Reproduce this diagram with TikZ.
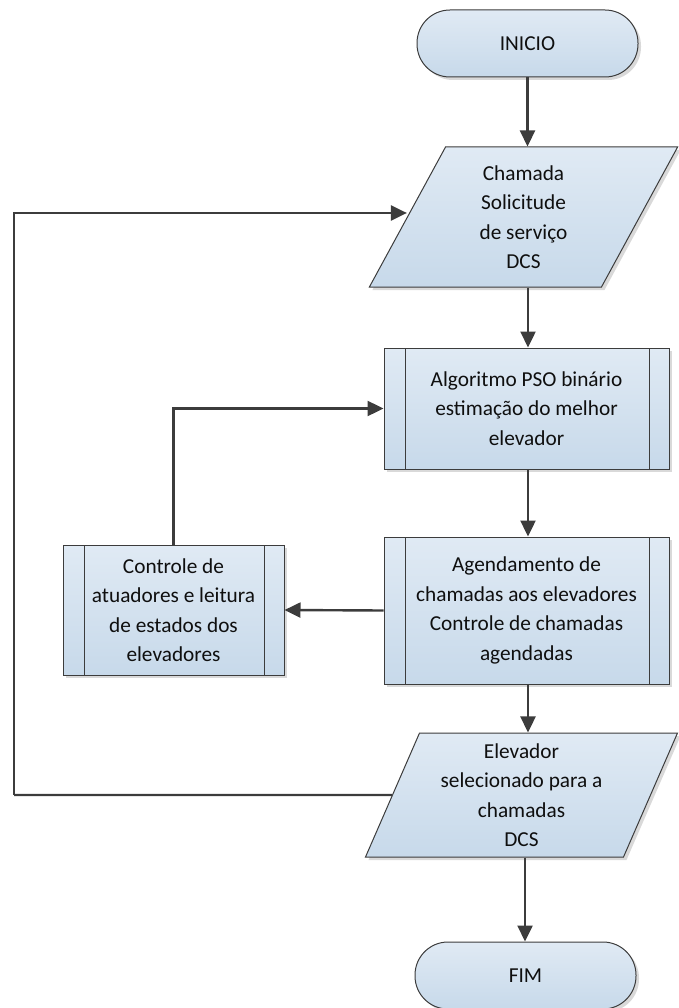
\documentclass[tikz,border=0pt]{standalone}
\usepackage{fontspec}
\setmainfont{Carlito}
\usetikzlibrary{shapes.geometric,arrows.meta,shadows}
\definecolor{boxtop}{RGB}{224,234,244}
\definecolor{boxbot}{RGB}{199,217,234}
\definecolor{edge}{RGB}{60,60,60}
\definecolor{arrowc}{RGB}{60,60,60}
\definecolor{txt}{RGB}{15,15,15}
\tikzset{
  base/.style={draw=edge, line width=1pt, top color=boxtop, bottom color=boxbot,
    text=txt, align=center, inner sep=0pt,
    font=\fontsize{21.3}{29.5}\selectfont,
    drop shadow={shadow xshift=3pt, shadow yshift=-3pt, opacity=0.25, fill=black!60}},
  term/.style={base, rectangle, rounded corners=33pt, minimum width=221pt, minimum height=67pt},
  io/.style={base, trapezium, trapezium left angle=67.5, trapezium right angle=112.5,
    trapezium stretches=true},
  proc/.style={base, rectangle,
    path picture={
      \draw[edge, line width=1pt] ([xshift=21pt]path picture bounding box.north west) -- ([xshift=21pt]path picture bounding box.south west);
      \draw[edge, line width=1pt] ([xshift=-20pt]path picture bounding box.north east) -- ([xshift=-20pt]path picture bounding box.south east);
    }},
  arr/.style={draw=arrowc, line width=2.4pt, -{Triangle[length=16pt,width=15pt]}},
  lin/.style={draw=arrowc, line width=2.4pt},
}
\begin{document}
\begin{tikzpicture}[x=1pt,y=-1pt]
\useasboundingbox (0,0) rectangle (678,1008);
\node[term] (inicio) at (527.5,43.5) {INICIO};
\node[io, minimum width=309pt, minimum height=140pt] (par1) at (523.5,217) {Chamada\\Solicitude\\de serviço\\DCS};
\node[proc, minimum width=285pt, minimum height=121pt] (pso) at (526.5,408.5) {Algoritmo PSO binário\\estimação do melhor\\elevador};
\node[proc, minimum width=285pt, minimum height=147pt] (agend) at (526.5,610.5) {Agendamento de\\chamadas aos elevadores\\Controle de chamadas\\agendadas};
\node[proc, minimum width=221pt, minimum height=130pt] (ctrl) at (173.5,610) {Controle de\\atuadores e leitura\\de estados dos\\elevadores};
\node[io, minimum width=313pt, minimum height=124pt] (par2) at (521.5,795) {Elevador\\selecionado para a\\chamadas\\DCS};
\node[term] (fim) at (525.5,975.5) {FIM};
\coordinate (lb) at (14,795);
\draw[arr] (inicio.south) -- (inicio.south |- par1.north);
\draw[arr] ([xshift=4.5pt]par1.south) -- ([xshift=4.5pt]par1.south |- pso.north);
\draw[arr] ([xshift=1.5pt]pso.south) -- ([xshift=1.5pt]pso.south |- agend.north);
\draw[arr] (agend.west) -- (ctrl.east);
\draw[arr] (ctrl.north) |- (pso.west);
\draw[arr] ([xshift=1.5pt]agend.south) -- ([xshift=1.5pt]agend.south |- par2.north);
\draw[arr] ([xshift=3.5pt]par2.south) -- ([xshift=3.5pt]par2.south |- fim.north);
\draw[lin] (par2.west) -- (lb);
\draw[arr] (lb) |- ([yshift=4pt]par1.west);
\end{tikzpicture}
\end{document}
